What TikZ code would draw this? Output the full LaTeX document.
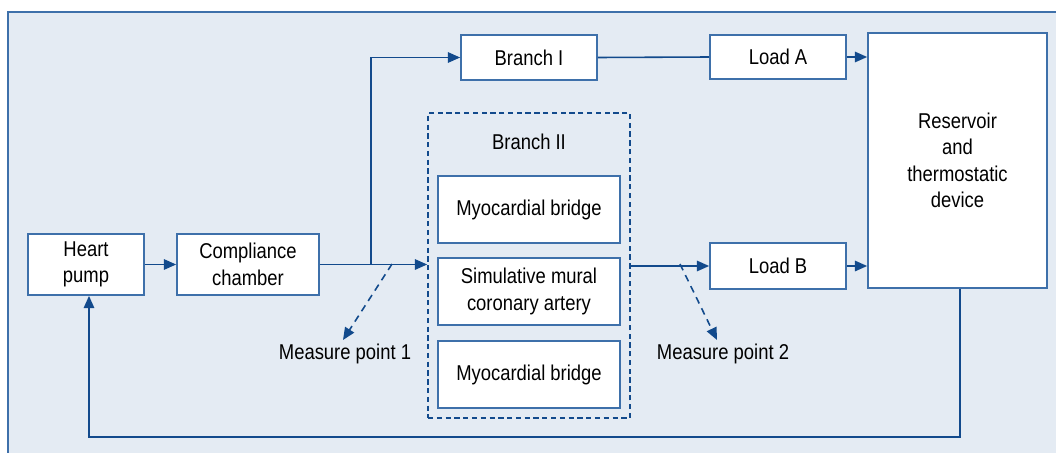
\documentclass[tikz,border=0pt]{standalone}
\usepackage{fontspec}
\setmainfont[FakeStretch=0.86]{Liberation Sans}
\usetikzlibrary{arrows.meta}
\definecolor{panelbg}{RGB}{228,235,243}
\definecolor{boxline}{RGB}{62,112,170}
\definecolor{flowline}{RGB}{18,74,140}
\tikzset{
    label text/.style={font=\fontsize{12.2}{15}\selectfont},
    block/.style={label text, draw=boxline, line width=1pt, fill=white, align=center,
        inner sep=0pt},
    flow/.style={draw=flowline, line width=0.9pt,
        -{Triangle[length=7pt, width=6pt]}},
    probe/.style={flow, dashed, dash pattern=on 4pt off 3pt},
}
\begin{document}
\begin{tikzpicture}[x=0.02cm, y=-0.02cm]
    \useasboundingbox (0,0) rectangle (1056,453);
    \fill[panelbg] (8,12) rectangle (1056,453);
    \draw[boxline, line width=1.6pt] (8,453) -- (8,12) -- (1056,12);

    % boxes
    \node[block, minimum width=2.32cm, minimum height=1.22cm] (heart) at (86,264.5) {Heart\\pump};
    \node[block, minimum width=2.84cm, minimum height=1.22cm] (compliance) at (248,264.5) {Compliance\\chamber};
    \node[block, minimum width=2.72cm, minimum height=0.9cm] (branchI) at (529,57.5) {Branch I};
    \node[block, minimum width=2.72cm, minimum height=0.88cm] (loadA) at (778,57) {Load A};
    \node[block, minimum width=2.72cm, minimum height=0.92cm] (loadB) at (778,266) {Load B};
    \node[block, minimum width=3.58cm, minimum height=5.1cm] (reservoir) at (957.5,160.5) {Reservoir\\and\\thermostatic\\device};
    \node[draw=flowline, line width=1pt, dashed, dash pattern=on 3pt off 2pt,
        minimum width=4.04cm, minimum height=6.1cm] (branchII) at (529,265.5) {};
    \node[label text] (branchIIlabel) at (529,142) {Branch II};
    \node[block, minimum width=3.64cm, minimum height=1.34cm] (bridgeA) at (529,209.5) {Myocardial bridge};
    \node[block, minimum width=3.64cm, minimum height=1.34cm] (mural) at (529,291.5) {Simulative mural\\coronary artery};
    \node[block, minimum width=3.64cm, minimum height=1.34cm] (bridgeB) at (529,374.5) {Myocardial bridge};

    % measure points
    \node[label text] (mp1) at (345,354) {Measure point 1};
    \node[label text] (mp2) at (723,354) {Measure point 2};
    \coordinate (split) at (371,264);
    \coordinate (tap1) at (392,264);
    \coordinate (end1) at (343,340);
    \coordinate (tap2) at (680,264);
    \coordinate (end2) at (717,340);
    \coordinate (ret) at (0,437);

    % flow
    \draw[flow] (heart.east) -- (compliance.west);
    \draw[flow] (compliance.east) -- (compliance.east -| branchII.west);
    \draw[flow] (split) |- (branchI.west);
    \draw[draw=flowline, line width=0.9pt] (branchI.east) -- (loadA.west);
    \draw[flow] (loadA.east) -- (loadA.east -| reservoir.west);
    \draw[flow] (loadB.west -| branchII.east) -- (loadB.west);
    \draw[flow] (loadB.east) -- (loadB.east -| reservoir.west);
    \draw[flow] ([xshift=0.05cm]reservoir.south) -- ([xshift=0.05cm]reservoir.south |- ret)
        -| ([xshift=0.06cm]heart.south);
    \draw[probe] (tap1) -- (end1);
    \draw[probe] (tap2) -- (end2);
\end{tikzpicture}
\end{document}
